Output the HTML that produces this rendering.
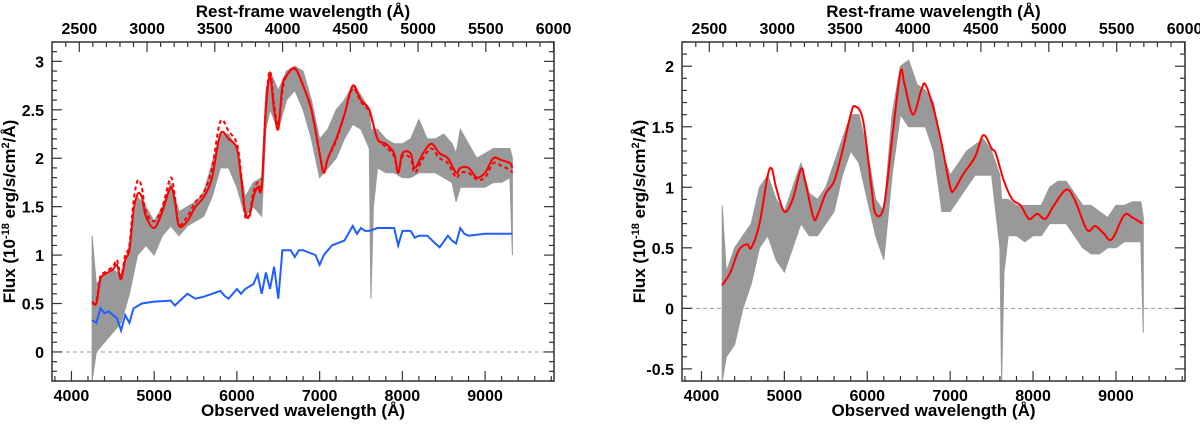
<!DOCTYPE html>
<html><head><meta charset="utf-8"><style>
body{margin:0;background:#fff;}
svg text{font-family:"Liberation Sans",sans-serif;font-weight:bold;fill:#000;}
</style></head><body>
<svg id="c" width="1200" height="420" xmlns="http://www.w3.org/2000/svg"></svg>
<script>
const zShift = 0.638;
// Left panel data
const lRedX = [4250,4300,4350,4400,4500,4550,4600,4650,4700,4750,4800,4850,4900,5000,5100,5200,5250,5300,5400,5500,5600,5700,5800,5900,6000,6050,6100,6150,6200,6250,6300,6350,6400,6450,6500,6550,6600,6700,6800,6900,7000,7050,7100,7200,7300,7400,7500,7600,7700,7800,7900,7950,8000,8100,8150,8250,8350,8450,8550,8650,8700,8800,8900,9000,9100,9200,9300,9330];
const lRedY = [0.52,0.5,0.75,0.8,0.85,0.9,0.75,0.95,1.05,1.45,1.63,1.6,1.4,1.28,1.45,1.7,1.55,1.3,1.35,1.5,1.6,1.8,2.25,2.2,2.1,1.8,1.45,1.4,1.6,1.7,1.7,2.5,2.85,2.5,2.3,2.75,2.85,2.93,2.75,2.5,2.05,1.85,2.0,2.2,2.45,2.75,2.6,2.5,2.2,2.15,2.05,1.85,2.05,2.05,1.9,2.05,2.15,2.05,2.0,1.85,1.9,1.9,1.8,1.85,2.0,1.98,1.95,1.9];
const lDashY = [0.5,0.52,0.78,0.82,0.88,0.95,0.78,1.0,1.1,1.55,1.77,1.7,1.45,1.35,1.5,1.8,1.6,1.32,1.4,1.55,1.65,1.9,2.38,2.28,2.15,1.85,1.4,1.42,1.65,1.75,1.72,2.55,2.9,2.55,2.35,2.7,2.85,2.92,2.75,2.5,2.05,1.85,2.0,2.18,2.45,2.72,2.58,2.48,2.2,2.12,2.02,1.85,2.02,2.0,1.85,2.0,2.1,2.0,1.95,1.8,1.85,1.85,1.78,1.8,1.95,1.92,1.88,1.85];
const lBlueX = [4250,4300,4350,4400,4450,4500,4550,4600,4650,4700,4750,4850,5000,5200,5250,5300,5400,5500,5600,5800,5850,5900,6000,6050,6100,6200,6250,6300,6350,6400,6450,6500,6550,6650,6700,6750,6800,6950,7000,7050,7100,7150,7300,7400,7450,7500,7550,7600,7700,7900,7950,8000,8100,8150,8200,8300,8400,8450,8550,8600,8650,8700,8750,8800,9000,9200,9330];
const lBlueY = [0.33,0.3,0.45,0.4,0.42,0.38,0.35,0.22,0.38,0.3,0.45,0.5,0.52,0.53,0.48,0.52,0.6,0.55,0.57,0.63,0.58,0.55,0.65,0.6,0.65,0.7,0.8,0.6,0.82,0.65,0.88,0.55,1.05,1.05,0.98,1.05,1.05,1.0,0.9,1.0,1.05,1.1,1.15,1.3,1.22,1.28,1.25,1.25,1.28,1.28,1.1,1.25,1.25,1.18,1.2,1.2,1.12,1.08,1.2,1.15,1.12,1.28,1.22,1.2,1.22,1.22,1.22];
const lGrayX = [4250,4300,4400,4500,4600,4700,4800,4900,5000,5100,5200,5300,5400,5500,5600,5700,5800,5900,6000,6100,6200,6300,6350,6400,6500,6600,6700,6800,6900,7000,7100,7200,7300,7400,7500,7600,7620,7650,7700,7800,7900,8000,8100,8200,8300,8400,8500,8600,8650,8700,8800,8900,9000,9100,9200,9300,9330];
const lGrayLo = [-0.3,0.0,0.1,0.2,0.3,0.6,1.0,1.1,1.0,1.2,1.3,1.2,1.3,1.35,1.4,1.6,1.9,1.9,1.7,1.4,1.5,1.4,2.3,2.5,2.3,2.6,2.7,2.5,2.2,1.8,1.9,2.0,2.2,2.35,2.3,2.1,0.55,1.5,1.9,1.85,1.85,1.8,1.8,1.85,1.85,1.85,1.8,1.75,1.55,1.7,1.7,1.7,1.7,1.75,1.75,1.8,1.0];
const lGrayHi = [1.2,0.7,0.8,0.85,0.8,1.1,1.6,1.5,1.35,1.5,1.75,1.45,1.5,1.55,1.65,1.95,2.25,2.25,2.1,1.6,1.75,1.8,2.7,2.9,2.7,2.9,2.95,2.9,2.6,2.2,2.3,2.5,2.6,2.75,2.65,2.5,2.3,2.3,2.3,2.2,2.15,2.15,2.2,2.4,2.2,2.2,2.25,2.15,2.05,2.3,2.15,2.0,2.05,2.1,2.1,2.1,2.0];
// Right panel data
const rRedX = [4250,4350,4450,4550,4600,4700,4800,4850,4900,5000,5100,5200,5250,5350,5400,5500,5600,5700,5800,5850,5950,6050,6100,6200,6300,6400,6450,6550,6650,6700,6800,6900,7000,7050,7150,7300,7400,7500,7550,7650,7750,7850,7950,8050,8150,8250,8400,8500,8650,8750,8850,8950,9100,9200,9320];
const rRedY = [0.19,0.3,0.48,0.53,0.5,0.7,1.1,1.15,1.0,0.8,0.9,1.15,1.05,0.75,0.77,0.95,1.05,1.3,1.6,1.67,1.55,1.0,0.78,0.84,1.4,1.95,1.85,1.6,1.8,1.85,1.65,1.35,1.0,0.98,1.1,1.25,1.43,1.32,1.28,1.05,0.9,0.85,0.74,0.78,0.74,0.85,0.98,0.9,0.65,0.68,0.62,0.57,0.77,0.75,0.7];
const rGrayX = [4250,4300,4400,4500,4600,4700,4800,4900,5000,5100,5200,5300,5400,5500,5600,5700,5800,5900,6000,6100,6200,6300,6400,6500,6600,6700,6800,6900,7000,7100,7200,7300,7400,7500,7600,7620,7650,7700,7800,7900,8000,8100,8200,8300,8400,8500,8600,8700,8800,8900,9000,9100,9200,9300,9330];
const rGrayLo = [-0.6,-0.4,-0.3,0.0,0.2,0.5,0.6,0.4,0.3,0.5,0.7,0.6,0.6,0.7,0.8,1.1,1.3,1.2,0.9,0.6,0.4,1.1,1.6,1.5,1.5,1.5,1.3,0.8,0.8,0.9,1.0,1.1,1.1,1.1,0.5,-0.6,0.3,0.6,0.6,0.55,0.6,0.6,0.7,0.7,0.7,0.6,0.5,0.45,0.45,0.5,0.5,0.55,0.55,0.55,-0.2];
const rGrayHi = [0.85,0.3,0.5,0.6,0.7,1.0,1.1,0.9,0.8,1.0,1.2,0.95,0.9,1.0,1.2,1.4,1.6,1.6,1.3,0.9,0.8,1.6,2.0,2.05,1.85,1.8,1.7,1.3,1.1,1.2,1.3,1.35,1.4,1.3,1.1,0.9,0.9,0.9,0.85,0.85,0.85,0.85,1.0,1.05,1.05,0.95,0.85,0.85,0.8,0.75,0.85,0.85,0.88,0.88,0.75];
const botTicks = [4000,5000,6000,7000,8000,9000];
const topTicks = [2500,3000,3500,4000,4500,5000,5500,6000];
const lYTicks = [0,0.5,1,1.5,2,2.5,3];
const rYTicks = [-0.5,0,0.5,1,1.5,2];

const NS="http://www.w3.org/2000/svg";
const svg=document.getElementById('c');
function mk(tag,attrs,parent){const e=document.createElementNS(NS,tag);for(const k in attrs)e.setAttribute(k,attrs[k]);(parent||svg).appendChild(e);return e;}
function smooth(pts){let d='M'+pts[0][0].toFixed(1)+','+pts[0][1].toFixed(1);for(let i=0;i<pts.length-1;i++){const p0=pts[Math.max(0,i-1)],p1=pts[i],p2=pts[i+1],p3=pts[Math.min(pts.length-1,i+2)];const c1=[p1[0]+(p2[0]-p0[0])/6,p1[1]+(p2[1]-p0[1])/6],c2=[p2[0]-(p3[0]-p1[0])/6,p2[1]-(p3[1]-p1[1])/6];d+=' C'+c1[0].toFixed(1)+','+c1[1].toFixed(1)+' '+c2[0].toFixed(1)+','+c2[1].toFixed(1)+' '+p2[0].toFixed(1)+','+p2[1].toFixed(1);}return d;}
function straight(pts){return 'M'+pts.map(p=>p[0].toFixed(1)+','+p[1].toFixed(1)).join(' L');}

function panel(name,box,ymin,ymax,yTicks,grayX,lo,hi,series){
  const g=mk('g',{});
  
  
  const xmin=3765,xmax=9833;
  const X=v=>box.x0+(v-xmin)/(xmax-xmin)*(box.x1-box.x0);
  const Y=v=>box.y1-(v-ymin)/(ymax-ymin)*(box.y1-box.y0);
  let pts=grayX.map((x,i)=>X(x).toFixed(1)+','+Y(hi[i]).toFixed(1));
  for(let i=grayX.length-1;i>=0;i--)pts.push(X(grayX[i]).toFixed(1)+','+Y(lo[i]).toFixed(1));
  const band=mk('polygon',{points:pts.join(' '),fill:'#999',stroke:'#999','stroke-width':1},g);
  
  
  const z=mk('line',{x1:box.x0,x2:box.x1,y1:Y(0),y2:Y(0),stroke:'#999','stroke-width':1,'stroke-dasharray':'4,3'},g);
  
  
  series.forEach(s=>{
    const pp=s.x.map((x,i)=>[X(x),Y(s.y[i])]);
    const p=mk('path',{d:s.straight?straight(pp):smooth(pp),fill:'none',stroke:s.c,'stroke-width':2,'stroke-dasharray':s.dash||'none'},g);
    
    
  });
  const f=mk('rect',{x:box.x0,y:box.y0,width:box.x1-box.x0,height:box.y1-box.y0,fill:'none',stroke:'#333','stroke-width':1.5},g);
  
  
  const tk=(x1,y1,x2,y2)=>mk('line',{x1,y1,x2,y2,stroke:'#333','stroke-width':1.2},g);
  for(let v=3800;v<=9800;v+=200){const x=X(v),L=v%1000==0?10:5;tk(x,box.y1,x,box.y1-L);}
  botTicks.forEach(v=>{const t=mk('text',{x:X(v),y:box.y1+20,'text-anchor':'middle','font-size':16},g);t.textContent=v;});
  for(let r=2400;r<=6000;r+=100){const x=X(r*(1+zShift));if(x<box.x0||x>box.x1+1)continue;const L=r%500==0?10:5;tk(x,box.y0,x,box.y0+L);}
  topTicks.forEach(r=>{const t=mk('text',{x:X(r*(1+zShift)),y:box.y0-8,'text-anchor':'middle','font-size':16},g);t.textContent=r;});
  for(let k=Math.ceil(ymin*10);k<=Math.floor(ymax*10);k++){const v=k/10,y=Y(v),L=k%5==0?10:5;tk(box.x0,y,box.x0+L,y);tk(box.x1,y,box.x1-L,y);}
  yTicks.forEach(v=>{const t=mk('text',{x:box.x0-8,y:Y(v)+6,'text-anchor':'end','font-size':16},g);t.textContent=v;});
  const xt=mk('text',{x:(box.x0+box.x1)/2,y:416,'text-anchor':'middle','font-size':17},g);xt.textContent='Observed wavelength (Å)';
  
  
  const tt=mk('text',{x:(box.x0+box.x1)/2,y:17,'text-anchor':'middle','font-size':17},g);tt.textContent='Rest-frame wavelength (Å)';
  
  
  const yt=mk('text',{x:0,y:0,'text-anchor':'middle','font-size':17,transform:`translate(${box.x0-37},${(box.y0+box.y1)/2}) rotate(-90)`},g);
  yt.innerHTML='Flux (10<tspan dy="-6" font-size="11">-18</tspan><tspan dy="6"> erg/s/cm</tspan><tspan dy="-6" font-size="11">2</tspan><tspan dy="6">/Å)</tspan>';
  
  
}
panel('left-panel',{x0:52,x1:554,y0:42,y1:381},-0.30,3.2,lYTicks,lGrayX,lGrayLo,lGrayHi,[
  {x:lBlueX,y:lBlueY,c:'#1f5fff',n:'blue-model-line',straight:true},
  {x:lRedX,y:lDashY,c:'#ff0000',dash:'4,3',n:'red-dashed-fit'},
  {x:lRedX,y:lRedY,c:'#ff0000',n:'red-fit-line'}]);
panel('right-panel',{x0:682,x1:1185,y0:42,y1:381},-0.6,2.2,rYTicks,rGrayX,rGrayLo,rGrayHi,[
  {x:rRedX,y:rRedY,c:'#ff0000',n:'red-fit-line'}]);
</script>
</body></html>
